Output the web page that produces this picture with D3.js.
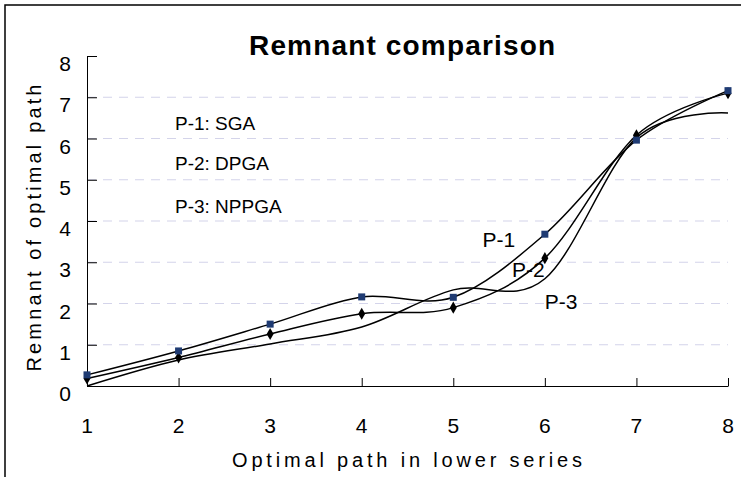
<!DOCTYPE html>
<html>
<head>
<meta charset="utf-8">
<script src="https://cdn.jsdelivr.net/npm/d3@7"></script>
<style>
  html, body { margin: 0; padding: 0; background: #fff; }
  svg { display: block; font-family: "Liberation Sans", Arial, sans-serif; }
</style>
</head>
<body>
<div id="chart"></div>
<script>
// ─── Data ────────────────────────────────────────────────────
const xValues  = [1, 2, 3, 4, 5, 6, 7, 8];
const p1Values = [0.27, 0.85, 1.50, 2.16, 2.15, 3.68, 5.96, 7.16];  // squares
const p2Values = [0.18, 0.69, 1.26, 1.75, 1.90, 3.10, 6.08, 7.10];  // diamonds
const p3Values = [0.00, 0.63, 1.02, 1.43, 2.33, 2.60, 6.02, 6.62];  // no markers
const yTicks   = [0, 1, 2, 3, 4, 5, 6, 7, 8];
const gridTicks = [1, 2, 3, 4, 5, 6, 7];
const legendNotes = ['P-1: SGA', 'P-2: DPGA', 'P-3: NPPGA'];
const curveLabels = [
  { text: 'P-1', x: 5.32, y: 3.37 },
  { text: 'P-2', x: 5.64, y: 2.64 },
  { text: 'P-3', x: 6.00, y: 1.87 }
];

const W = 741, H = 477;

const x = d3.scaleLinear().domain([1, 8]).range([87, 728]);
const y = d3.scaleLinear().domain([0, 8]).range([386, 56]);

const svg = d3.select('#chart').append('svg')
  .attr('width', W).attr('height', H);

// outer frame (clipped on right/bottom like the reference)
svg.append('rect')
  .attr('x', 5).attr('y', 5).attr('width', 900).attr('height', 700)
  .attr('fill', 'none').attr('stroke', '#000').attr('stroke-width', 1.5);

// gridlines
svg.append('g').selectAll('line')
  .data(gridTicks).enter().append('line')
  .attr('x1', x(1)).attr('x2', x(8))
  .attr('y1', d => y(d)).attr('y2', d => y(d))
  .attr('stroke', '#d4d4ea').attr('stroke-width', 1.2)
  .attr('stroke-dasharray', '9,7');

// axes
const yAxis = d3.axisLeft(y).tickValues(yTicks).tickSizeInner(-10).tickSizeOuter(0).tickFormat('');
const xAxis = d3.axisBottom(x).tickValues(xValues).tickSizeInner(-8).tickSizeOuter(0).tickFormat('');

svg.append('g').attr('transform', `translate(${x(1)},0)`).call(yAxis)
  .call(g => g.selectAll('line, path').attr('stroke', '#000'));
svg.append('g').attr('transform', `translate(0,${y(0)})`).call(xAxis)
  .call(g => g.selectAll('line, path').attr('stroke', '#000'));

// tick labels (Excel places the top of the digit at the tick)
svg.append('g').selectAll('text')
  .data(yTicks).enter().append('text')
  .attr('x', 71).attr('y', d => y(d) + 15)
  .attr('text-anchor', 'end').attr('font-size', 21)
  .text(d => d);

svg.append('g').selectAll('text')
  .data(xValues).enter().append('text')
  .attr('x', d => x(d)).attr('y', 433)
  .attr('text-anchor', 'middle').attr('font-size', 21)
  .text(d => d);

// series
const line = d3.line()
  .x((d, i) => x(xValues[i]))
  .y(d => y(d))
  .curve(d3.curveCardinal.tension(0));

[p1Values, p2Values, p3Values].forEach(vals => {
  svg.append('path')
    .datum(vals)
    .attr('d', line)
    .attr('fill', 'none').attr('stroke', '#000').attr('stroke-width', 1.5);
});

svg.append('g').selectAll('path')
  .data(p2Values).enter().append('path')
  .attr('transform', (d, i) => `translate(${x(xValues[i])},${y(d)})`)
  .attr('d', d3.symbol().type(d3.symbolDiamond).size(42))
  .attr('fill', '#000');

svg.append('g').selectAll('rect')
  .data(p1Values).enter().append('rect')
  .attr('x', (d, i) => x(xValues[i]) - 3.5).attr('y', d => y(d) - 3.5)
  .attr('width', 7).attr('height', 7)
  .attr('fill', '#1f3b73');

// notes
svg.append('g').selectAll('text')
  .data(legendNotes).enter().append('text')
  .attr('x', 175).attr('y', (d, i) => [130, 170, 213][i])
  .attr('font-size', 19)
  .text(d => d);

svg.append('g').selectAll('text')
  .data(curveLabels).enter().append('text')
  .attr('x', d => x(d.x)).attr('y', d => y(d.y))
  .attr('font-size', 21)
  .text(d => d.text);

// titles
svg.append('text')
  .attr('x', 249).attr('y', 55)
  .attr('font-size', 28).attr('font-weight', 'bold')
  .attr('textLength', 306).attr('lengthAdjust', 'spacing')
  .text('Remnant comparison');

svg.append('text')
  .attr('x', 407).attr('y', 467)
  .attr('text-anchor', 'middle').attr('font-size', 20)
  .attr('textLength', 350).attr('lengthAdjust', 'spacing')
  .text('Optimal path in lower series');

svg.append('text')
  .attr('transform', 'translate(41,228) rotate(-90)')
  .attr('text-anchor', 'middle').attr('font-size', 20)
  .attr('textLength', 287).attr('lengthAdjust', 'spacing')
  .text('Remnant of optimal path');
</script>
</body>
</html>
